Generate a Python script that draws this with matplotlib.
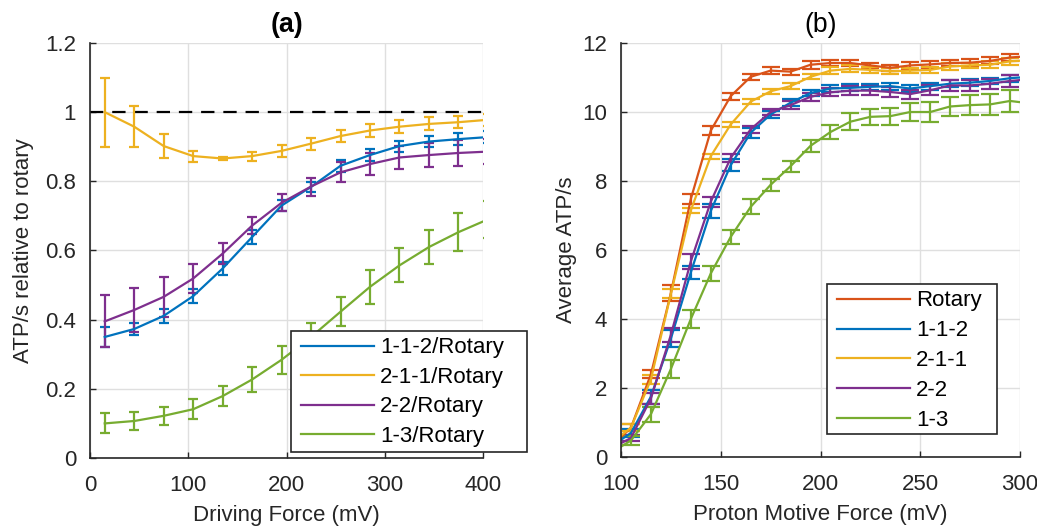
import matplotlib
matplotlib.use("Agg")
import matplotlib.pyplot as plt
from matplotlib.patches import Rectangle

plt.rcParams["font.family"] = ["Liberation Sans", "DejaVu Sans"]
plt.rcParams["font.size"] = 16

# MATLAB default line colours
C_BLUE = "#0072BD"
C_ORANGE = "#D95319"
C_YELLOW = "#EDB120"
C_PURPLE = "#7E2F8E"
C_GREEN = "#77AC30"
DARK = "#262626"

# ---- (a) ratio to rotary vs driving force ----
drive_mv = [15, 45, 75, 105, 135, 165, 195, 225, 255, 285, 315, 345, 375, 405]

r112 = [0.350, 0.373, 0.411, 0.468, 0.548, 0.639, 0.730, 0.784, 0.845, 0.876, 0.902, 0.915, 0.922, 0.928]
r112_err = [0.03, 0.018, 0.02, 0.02, 0.018, 0.02, 0.016, 0.015, 0.018, 0.017, 0.016, 0.015, 0.018, 0.018]

r211 = [1.0, 0.958, 0.902, 0.873, 0.866, 0.873, 0.888, 0.909, 0.931, 0.947, 0.958, 0.966, 0.971, 0.978]
r211_err = [0.1, 0.06, 0.035, 0.016, 0.005, 0.013, 0.017, 0.017, 0.018, 0.02, 0.019, 0.019, 0.018, 0.018]

r22 = [0.395, 0.428, 0.466, 0.519, 0.591, 0.672, 0.738, 0.785, 0.826, 0.850, 0.869, 0.876, 0.882, 0.886]
r22_err = [0.075, 0.065, 0.057, 0.043, 0.03, 0.024, 0.024, 0.026, 0.029, 0.031, 0.034, 0.035, 0.037, 0.037]

r13 = [0.100, 0.107, 0.122, 0.141, 0.179, 0.227, 0.284, 0.350, 0.423, 0.495, 0.557, 0.610, 0.653, 0.690]
r13_err = [0.029, 0.025, 0.026, 0.029, 0.03, 0.035, 0.04, 0.04, 0.042, 0.049, 0.049, 0.05, 0.054, 0.054]

labels_a = ["1-1-2/Rotary", "2-1-1/Rotary", "2-2/Rotary", "1-3/Rotary"]

# ---- (b) ATP rate vs proton motive force ----
pmf_mv = [95, 105, 115, 125, 135, 145, 155, 165, 175, 185, 195, 205, 215, 225,
          235, 245, 255, 265, 275, 285, 295, 305]

rot = [0.30, 0.85, 2.40, 4.75, 7.48, 9.46, 10.46, 11.02, 11.20, 11.17, 11.37, 11.42,
       11.42, 11.35, 11.28, 11.35, 11.38, 11.42, 11.43, 11.48, 11.58, 11.62]
rot_err = [0.1, 0.1, 0.12, 0.24, 0.15, 0.13, 0.1, 0.09, 0.1, 0.09, 0.12, 0.1,
           0.1, 0.08, 0.09, 0.1, 0.1, 0.09, 0.1, 0.1, 0.1, 0.1]

b112 = [0.30, 0.70, 1.75, 3.43, 5.35, 7.13, 8.46, 9.40, 9.93, 10.27, 10.55, 10.68,
        10.70, 10.73, 10.75, 10.68, 10.75, 10.82, 10.85, 10.90, 10.98, 11.02]
b112_err = [0.12, 0.12, 0.2, 0.24, 0.2, 0.2, 0.17, 0.15, 0.1, 0.1, 0.1, 0.09,
            0.1, 0.09, 0.1, 0.09, 0.1, 0.1, 0.1, 0.1, 0.1, 0.1]

b211 = [0.40, 0.85, 2.25, 4.73, 7.15, 8.72, 9.64, 10.30, 10.60, 10.75, 11.02, 11.20,
        11.25, 11.22, 11.18, 11.20, 11.22, 11.32, 11.35, 11.37, 11.47, 11.50]
b211_err = [0.1, 0.1, 0.12, 0.13, 0.08, 0.07, 0.07, 0.07, 0.08, 0.08, 0.07, 0.09,
            0.1, 0.08, 0.09, 0.08, 0.09, 0.09, 0.08, 0.1, 0.1, 0.1]

b22 = [0.25, 0.55, 1.70, 3.54, 5.67, 7.40, 8.67, 9.50, 10.00, 10.20, 10.44, 10.57,
       10.62, 10.62, 10.58, 10.52, 10.63, 10.77, 10.77, 10.82, 10.90, 10.95]
b22_err = [0.1, 0.1, 0.15, 0.2, 0.22, 0.15, 0.11, 0.1, 0.1, 0.12, 0.12, 0.12,
           0.14, 0.14, 0.15, 0.13, 0.15, 0.15, 0.15, 0.15, 0.17, 0.17]

b13 = [0.12, 0.48, 1.24, 2.55, 4.00, 5.32, 6.38, 7.25, 7.89, 8.43, 9.02, 9.42,
       9.72, 9.86, 9.88, 10.00, 10.00, 10.16, 10.20, 10.22, 10.32, 10.25]
b13_err = [0.12, 0.12, 0.22, 0.25, 0.25, 0.22, 0.2, 0.22, 0.17, 0.16, 0.17, 0.19,
           0.25, 0.24, 0.25, 0.26, 0.3, 0.28, 0.3, 0.3, 0.31, 0.31]

labels_b = ["Rotary", "1-1-2", "2-1-1", "2-2", "1-3"]

W, H = 1037, 529


def style_axes(ax):
    ax.grid(True, color="#DFDFDF", linewidth=1.0)
    ax.set_axisbelow(True)
    for side in ["top", "right"]:
        ax.spines[side].set_visible(False)
    for side in ["left", "bottom"]:
        ax.spines[side].set_color(DARK)
        ax.spines[side].set_linewidth(1.2)
    ax.tick_params(direction="in", length=4, width=1.0, colors=DARK,
                   labelcolor=DARK, top=False, right=False, pad=10)
    ax.tick_params(axis="x", pad=12)


def boxed_legend(ax, x0, y0, x1, y1, spacing):
    # white frame in figure pixels (top-left origin), entries placed inside it
    frame = Rectangle((x0 / W, (H - y1) / H), (x1 - x0) / W, (y1 - y0) / H,
                      transform=fig.transFigure, facecolor="white", edgecolor=DARK,
                      linewidth=1.2, zorder=5)
    fig.patches.append(frame)
    h, l = ax.get_legend_handles_labels()
    leg = fig.legend([x[0] for x in h], l, loc="upper left",
                     bbox_to_anchor=((x0 + 6) / W, (H - y0 - 2) / H),
                     frameon=False, handlelength=3.25, handletextpad=0.3,
                     labelspacing=spacing, borderpad=0.2, borderaxespad=0)
    leg.set_zorder(6)
    return leg


fig = plt.figure(figsize=(10.37, 5.29), dpi=100)
ax1 = fig.add_axes([90 / W, 71 / H, 393 / W, 415 / H])
ax2 = fig.add_axes([621 / W, 72 / H, 399 / W, 414 / H])

# panel (a)
ax1.plot([0, 400], [1, 1], "--", color="black", linewidth=1.6, dashes=(6, 4))
for y, e, c, lab in zip([r112, r211, r22, r13], [r112_err, r211_err, r22_err, r13_err],
                        [C_BLUE, C_YELLOW, C_PURPLE, C_GREEN], labels_a):
    ax1.errorbar(drive_mv, y, yerr=e, color=c, linewidth=1.6, elinewidth=1.6,
                 capsize=3.5, capthick=1.6, label=lab)
ax1.set_xlim(0, 400)
ax1.set_ylim(0, 1.2)
ax1.set_xticks([0, 100, 200, 300, 400])
ax1.set_yticks([0, 0.2, 0.4, 0.6, 0.8, 1.0, 1.2])
ax1.set_yticklabels(["0", "0.2", "0.4", "0.6", "0.8", "1", "1.2"])
ax1.set_xlabel("Driving Force (mV)", color=DARK, labelpad=7)
ax1.set_ylabel("ATP/s relative to rotary", color=DARK, labelpad=8)
ax1.set_title("(a)", fontweight="bold", pad=8)
style_axes(ax1)
boxed_legend(ax1, 291, 331, 527, 452, 0.38)

# panel (b)
for y, e, c, lab in zip([rot, b112, b211, b22, b13],
                        [rot_err, b112_err, b211_err, b22_err, b13_err],
                        [C_ORANGE, C_BLUE, C_YELLOW, C_PURPLE, C_GREEN], labels_b):
    ax2.errorbar(pmf_mv, y, yerr=e, color=c, linewidth=1.6, elinewidth=1.6,
                 capsize=6.5, capthick=1.6, label=lab)
ax2.set_xlim(100, 300)
ax2.set_ylim(0, 12)
ax2.set_xticks([100, 150, 200, 250, 300])
ax2.set_yticks([0, 2, 4, 6, 8, 10, 12])
ax2.set_xlabel("Proton Motive Force (mV)", color=DARK, labelpad=7)
ax2.set_ylabel("Average ATP/s", color=DARK, labelpad=4)
ax2.set_title("(b)", pad=8)
style_axes(ax2)
boxed_legend(ax2, 827, 284, 997, 434, 0.4)

fig.savefig("out.png", dpi=100)
